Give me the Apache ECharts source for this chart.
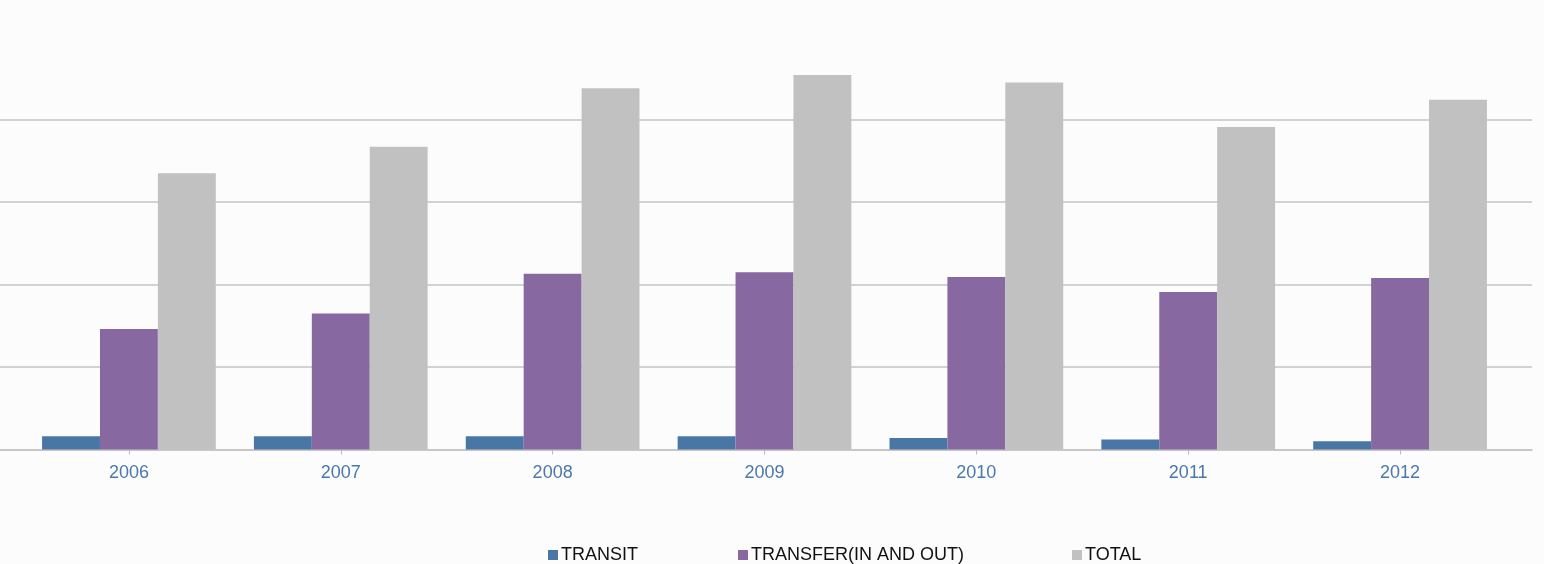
<!DOCTYPE html>
<html>
<head>
<meta charset="utf-8">
<script src="https://cdn.jsdelivr.net/npm/echarts@6/dist/echarts.min.js"></script>
<style>
  html, body { margin: 0; padding: 0; background: #fcfcfc; }
  #chart { width: 1544px; height: 564px; }
</style>
</head>
<body>
<div id="chart"></div>
<script>
const years = ['2006', '2007', '2008', '2009', '2010', '2011', '2012'];
const transit = [16, 16, 16, 16, 14, 12, 10];
const transfer = [146, 165, 213, 215, 209, 191, 208];
const total = [335, 367, 438, 454, 445, 391, 424];

const font = "'Liberation Sans', Arial, sans-serif";
const colors = ['#4877a6', '#8868a1', '#c0c1c0'];

// grid 1 only draws the full-width gridlines, grid 0 holds the bars
const chart = echarts.init(document.getElementById('chart'));
chart.setOption({
  backgroundColor: '#fcfcfc',
  animation: false,
  color: colors,
  textStyle: { fontFamily: font },
  legend: [
    { left: 548, top: 546, data: ['TRANSIT'] },
    { left: 738, top: 546, data: ['TRANSFER(IN AND OUT)'] },
    { left: 1072, top: 546, data: ['TOTAL'] }
  ].map(l => Object.assign(l, {
    icon: 'rect', itemWidth: 10, itemHeight: 10, itemGap: 0, padding: 0,
    textStyle: { fontSize: 18, color: '#111', fontFamily: font, padding: [0, 0, 0, -2] }
  })),
  grid: [
    { left: 23, right: 38, top: 37, bottom: 114.5 },
    { left: 0, right: 12, top: 119.5, bottom: 114.5 }
  ],
  xAxis: [
    {
      type: 'category', data: years, gridIndex: 0,
      axisLine: { show: false },
      axisTick: { show: true, alignWithLabel: true, length: 5, lineStyle: { color: '#bbb' } },
      axisLabel: { fontSize: 18, color: '#4a78ac', margin: 15, fontFamily: font },
      splitLine: { show: false }
    },
    {
      type: 'category', data: years, gridIndex: 1,
      axisLine: { show: true, lineStyle: { color: '#c4c4c4', width: 1.5 } },
      axisTick: { show: false }, axisLabel: { show: false }, splitLine: { show: false }
    }
  ],
  yAxis: [
    {
      type: 'value', gridIndex: 0, min: 0, max: 500, interval: 100,
      axisLine: { show: false }, axisTick: { show: false }, axisLabel: { show: false },
      splitLine: { show: false }
    },
    {
      type: 'value', gridIndex: 1, min: 0, max: 400, interval: 100,
      axisLine: { show: false }, axisTick: { show: false }, axisLabel: { show: false },
      splitLine: { show: true, lineStyle: { color: '#c4c4c4', width: 1.5 } }
    }
  ],
  series: [
    { name: 'TRANSIT', type: 'bar', data: transit, barGap: '0%', barCategoryGap: '18%' },
    { name: 'TRANSFER(IN AND OUT)', type: 'bar', data: transfer, barGap: '0%', barCategoryGap: '18%' },
    { name: 'TOTAL', type: 'bar', data: total, barGap: '0%', barCategoryGap: '18%' }
  ]
});
</script>
</body>
</html>
